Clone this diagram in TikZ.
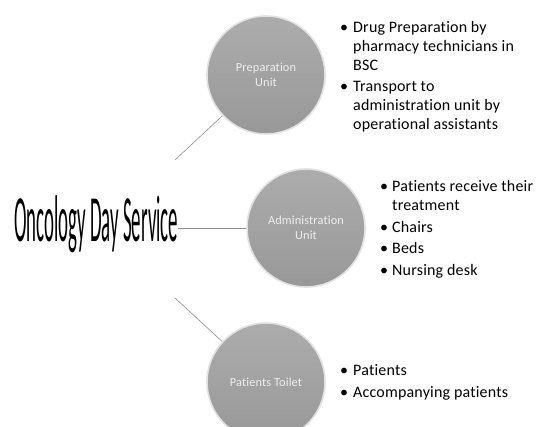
\documentclass[tikz,border=0pt]{standalone}
\usepackage{fontspec}
\setmainfont{Carlito}[Ligatures=NoCommon, LetterSpace=1.2]
\newfontfamily\titlefont{Carlito}[Ligatures=NoCommon]
\usepackage{graphicx}
\definecolor{ctop}{HTML}{ACACAC}
\definecolor{cbot}{HTML}{989898}
\definecolor{crim}{HTML}{E2E2E2}
\definecolor{ctext}{HTML}{EFEFEF}
\definecolor{cline}{HTML}{8C8C8C}
\tikzset{
  unit/.style={circle, minimum size=118pt, inner sep=0pt, top color=ctop, bottom color=cbot,
    draw=crim, line width=1.6pt, text=ctext, align=center, font=\fontsize{12.3}{14.5}\selectfont},
  conn/.style={draw=cline, line width=0.6pt},
  blist/.style={anchor=base west, inner sep=0pt, font=\fontsize{16}{18.8}\selectfont}
}
\begin{document}
\begin{tikzpicture}[x=1pt,y=-1pt]
\clip (0,0) rectangle (536,427);
\fill[white] (0,0) rectangle (536,427);
\node[anchor=base west, inner sep=0pt] (title) at (14,242)
  {\resizebox{164pt}{\height}{\titlefont\fontsize{66}{70}\selectfont Oncology Day Service}};
\node[unit] (prep) at (266,75) {Preparation\\Unit};
\node[unit] (adm) at (306,228) {Administration\\Unit};
\node[unit] (toil) at (266,382) {Patients Toilet};
\coordinate (c1) at (175,160);
\coordinate (c3) at (175,298);
\draw[conn] (c1) -- (prep);
\draw[conn] (title.east |- adm.west) -- (adm.west);
\draw[conn] (c3) -- (toil);
\node[blist] (l1) at (340,32.5) {\begin{tabular}[t]{@{}p{13pt}@{}l@{}}
•& Drug Preparation by\\
 & pharmacy technicians in\\
 & BSC\\[2.7pt]
•& Transport to\\
 & administration unit by\\
 & operational assistants
\end{tabular}};
\node[blist] (l2) at (380,192) {\begin{tabular}[t]{@{}p{12pt}@{}l@{}}
•& Patients receive their\\
 & treatment\\[2.7pt]
•& Chairs\\[2.7pt]
•& Beds\\[2.7pt]
•& Nursing desk
\end{tabular}};
\node[blist] (l3) at (340,376) {\begin{tabular}[t]{@{}p{13pt}@{}l@{}}
•& Patients\\[2.7pt]
•& Accompanying patients
\end{tabular}};
\end{tikzpicture}
\end{document}
